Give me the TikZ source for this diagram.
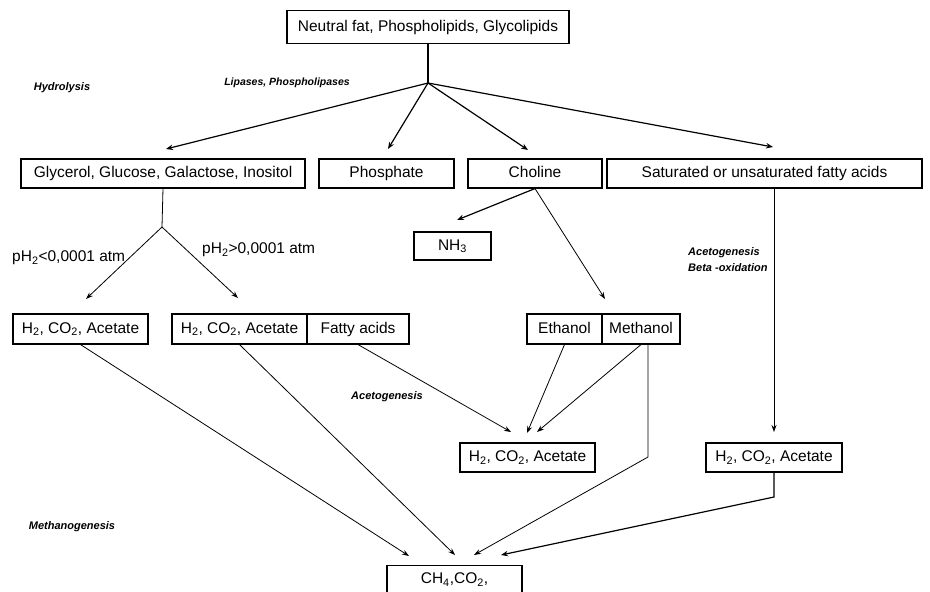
\documentclass[tikz,border=0pt]{standalone}
\usepackage{fontspec}
\setmainfont{Liberation Sans}
\usetikzlibrary{arrows.meta,calc}
\begin{document}
\begin{tikzpicture}[x=1pt,y=-1pt,
  box/.style={draw,line width=1.1pt,inner sep=0pt,minimum height=29pt,
    text height=11.5pt,text depth=3.5pt,
    font=\fontsize{15.5}{18}\selectfont},
  lbl/.style={inner sep=0pt,font=\fontsize{11}{13}\selectfont\bfseries\itshape},
  plain/.style={inner sep=0pt,font=\fontsize{15.5}{18}\selectfont},
  conn/.style={line width=0.8pt},
  arr/.style={line width=0.8pt,-{Stealth[length=7pt,width=5pt]}},
  arrb/.style={line width=1.2pt,-{Stealth[length=7pt,width=5.5pt]}}]
\useasboundingbox (0,0) rectangle (930,592);
% boxes
\node[box,minimum width=282pt,minimum height=33pt] (top) at (428,27) {Neutral fat, Phospholipids, Glycolipids};
\node[box,minimum width=284pt] (glyc) at (163,173.5) {Glycerol, Glucose, Galactose, Inositol};
\node[box,minimum width=135pt] (phos) at (386.5,173.5) {Phosphate};
\node[box,minimum width=134pt] (chol) at (535,173.5) {Choline};
\node[box,minimum width=315pt] (sat) at (764.5,173.5) {Saturated or unsaturated fatty acids};
\node[box,minimum width=77pt,minimum height=28pt] (nh) at (452.5,246) {NH\textsubscript{3}};
\node[box,minimum width=135pt,minimum height=30pt] (h2a) at (80.5,329) {H\textsubscript{2}, CO\textsubscript{2}, Acetate};
\node[box,minimum width=135pt,minimum height=30pt] (h2b) at (239.5,329) {H\textsubscript{2}, CO\textsubscript{2}, Acetate};
\node[box,minimum width=102pt,minimum height=30pt] (fat) at (358,329) {Fatty acids};
\node[box,minimum width=75pt,minimum height=30pt] (eth) at (564.5,329) {Ethanol};
\node[box,minimum width=78pt,minimum height=30pt] (meth) at (641,329) {Methanol};
\node[box,minimum width=135pt] (h2c) at (527.5,457.5) {H\textsubscript{2}, CO\textsubscript{2}, Acetate};
\node[box,minimum width=136pt] (h2d) at (774,457.5) {H\textsubscript{2}, CO\textsubscript{2}, Acetate};
\node[box,anchor=north,minimum width=135pt,minimum height=0pt,inner ysep=7pt,text height=11pt,text depth=30pt] (bot) at (454.5,565) {CH\textsubscript{4},CO\textsubscript{2},};
% labels
\node[lbl,font=\fontsize{10.5}{12}\selectfont\bfseries\itshape] (lip) at (287,83) {Lipases, Phospholipases};
\node[lbl] (hyd) at (62,88) {Hydrolysis};
\node[plain,anchor=west] (phl) at (12,258) {pH\textsubscript{2}<0,0001 atm};
\node[plain,anchor=west] (phh) at (202,250) {pH\textsubscript{2}>0,0001 atm};
\node[lbl,anchor=west] (acg1) at (688,253) {Acetogenesis};
\node[lbl,anchor=west] (beta) at (688,268) {Beta -oxidation};
\node[lbl] (acg2) at (387,397) {Acetogenesis};
\node[lbl] (meg) at (72,527) {Methanogenesis};
% coordinates
\coordinate (J) at (428,83);
\coordinate (tg) at (166,149);
\coordinate (tp) at (388,149);
\coordinate (tc) at (528,150);
\coordinate (ts) at (773,147);
\coordinate (J2) at (162,227);
\coordinate (ta) at (86,299);
\coordinate (tb) at (238,298);
\coordinate (tn) at (457,220);
\coordinate (te) at (605,299);
\coordinate (ss) at (774,188);
\coordinate (tsd) at (774,432);
\coordinate (tf) at (511,432);
\coordinate (tet) at (527,433);
\coordinate (tme) at (537,432);
\coordinate (mb) at (648,344);
\coordinate (mk) at (648,457);
\coordinate (b1) at (409,556);
\coordinate (b2) at (455,555);
\coordinate (b3) at (474,555);
\coordinate (b4) at (501,555);
\coordinate (dk) at (774,497);
% connectors
\draw[line width=1.2pt] (top.south) -- (J);
\draw[arrb] (J) -- (tg);
\draw[arrb] (J) -- (tp);
\draw[arrb] (J) -- (tc);
\draw[arrb] (J) -- (ts);
\draw[conn] (glyc.south) -- (J2);
\draw[arr] (J2) -- (ta);
\draw[arr] (J2) -- (tb);
\draw[arrb] (chol.south) -- (tn);
\draw[arr] (chol.south) -- (te);
\draw[arr] (ss) -- (tsd);
\draw[arr] (fat.south) -- (tf);
\draw[arr] (eth.south) -- (tet);
\draw[arr] (meth.south) -- (tme);
\draw[arr] (mb) -- (mk) -- (b3);
\draw[arr] (h2a.south) -- (b1);
\draw[arr] (h2b.south) -- (b2);
\draw[arrb] (h2d.south) -- (dk) -- (b4);
\end{tikzpicture}
\end{document}
